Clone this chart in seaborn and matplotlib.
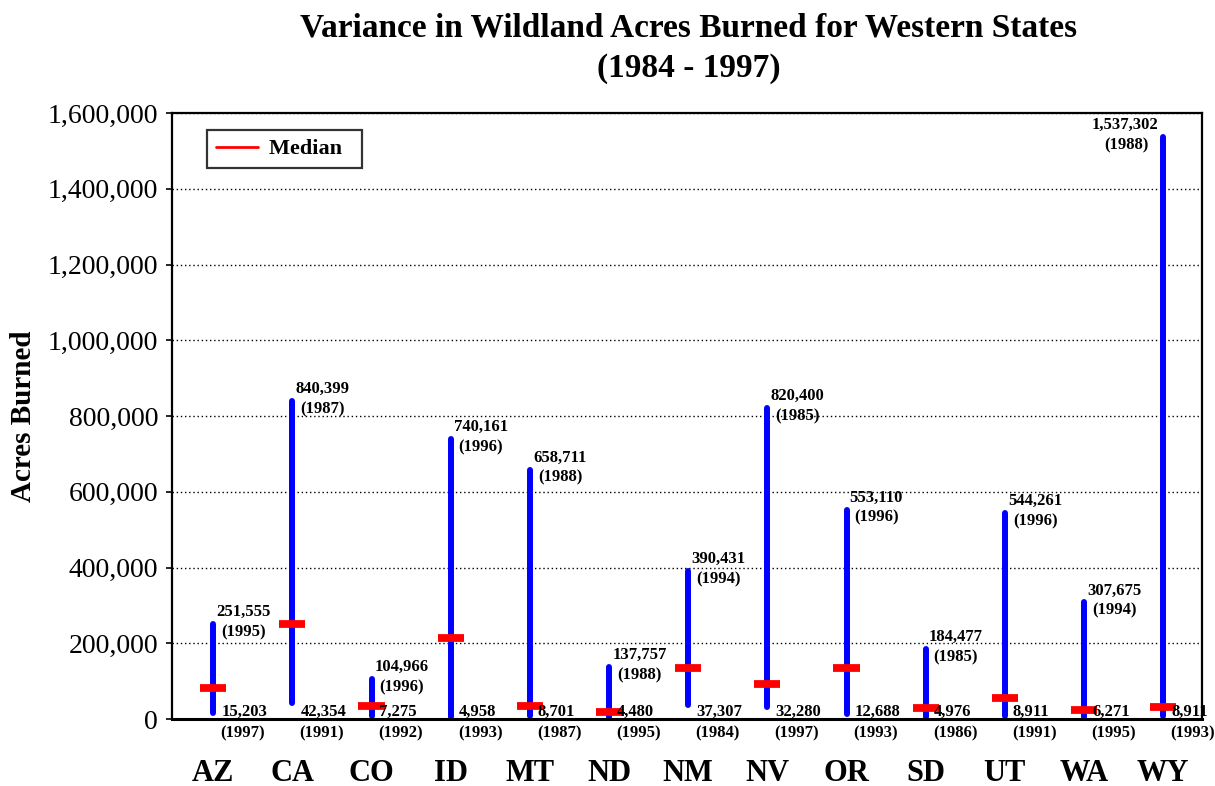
import matplotlib
matplotlib.use("Agg")
import matplotlib.pyplot as plt
from matplotlib.lines import Line2D
import seaborn as sns
import pandas as pd
import numpy as np

states = ["AZ", "CA", "CO", "ID", "MT", "ND", "NM", "NV", "OR", "SD", "UT", "WA", "WY"]
max_vals = [251555, 840399, 104966, 740161, 658711, 137757, 390431, 820400, 553110, 184477, 544261, 307675, 1537302]
max_years = ["1995", "1987", "1996", "1996", "1988", "1988", "1994", "1985", "1996", "1985", "1996", "1994", "1988"]
min_vals = [15203, 42354, 7275, 4958, 8701, 4480, 37307, 32280, 12688, 4976, 8911, 6271, 8911]
min_years = ["1997", "1991", "1992", "1993", "1987", "1995", "1984", "1997", "1993", "1986", "1991", "1995", "1993"]
medians = [82000, 251000, 35000, 215000, 35000, 19000, 135000, 93000, 135000, 30000, 56000, 24500, 32500]

sns.set_style("white")
plt.rcParams["font.family"] = ["Liberation Serif", "DejaVu Serif"]
plt.rcParams["text.color"] = "black"
plt.rcParams["axes.labelcolor"] = "black"
plt.rcParams["xtick.color"] = "black"
plt.rcParams["ytick.color"] = "black"

fig = plt.figure(figsize=(12.15, 7.86), dpi=100)
ax = fig.add_axes([0.1416, 0.0852, 0.8477, 0.771])

rng_df = pd.DataFrame({
    "state": states + states,
    "value": min_vals + max_vals,
})
sns.lineplot(data=rng_df, x="state", y="value", units="state", estimator=None,
             color="#0000ff", lw=4.3, solid_capstyle="round", ax=ax, legend=False)

pos = np.arange(len(states))
ax.hlines(medians, pos - 0.165, pos + 0.165, colors="#ff0000", lw=5.6, capstyle="butt", zorder=5)

fs = 12
for i, s in enumerate(states):
    if s == "WY":
        ax.text(i - 0.48, max_vals[i] + 32000, f"{max_vals[i]:,}", ha="center", va="center",
                fontsize=fs, fontweight="bold")
        ax.text(i - 0.47, max_vals[i] - 22000, f"({max_years[i]})", ha="center", va="center",
                fontsize=fs, fontweight="bold")
    else:
        ax.text(i + 0.04, max_vals[i] + 32000, f"{max_vals[i]:,}", ha="left", va="center",
                fontsize=fs, fontweight="bold")
        ax.text(i + 0.10, max_vals[i] - 22000, f"({max_years[i]})", ha="left", va="center",
                fontsize=fs, fontweight="bold")
    ax.text(i + 0.10, 18500, f"{min_vals[i]:,}", ha="left", va="center",
            fontsize=fs, fontweight="bold", clip_on=False, zorder=6)
    ax.text(i + 0.09, -39000, f"({min_years[i]})", ha="left", va="center",
            fontsize=fs, fontweight="bold", clip_on=False)

ax.set_xlim(-0.52, 12.49)
ax.set_ylim(0, 1600000)
ax.set_yticks(np.arange(0, 1600001, 200000))
ax.yaxis.set_major_formatter(matplotlib.ticker.FuncFormatter(lambda v, p: f"{int(v):,}"))
ax.tick_params(axis="y", labelsize=20, length=4, width=1.2, direction="out", left=True, pad=6,
               colors="black")
ax.tick_params(axis="x", labelsize=22, length=0, pad=29, colors="black")
for lab in ax.get_xticklabels():
    lab.set_fontweight("bold")
ax.set_xlabel("")
ax.set_ylabel("Acres Burned", fontsize=21, fontweight="bold", labelpad=8, color="black")

for v in np.arange(200000, 1600001, 200000):
    ax.axhline(v, color="black", lw=1.0, ls=(0, (1, 2)), zorder=0)

for sp in ax.spines.values():
    sp.set_visible(True)
    sp.set_color("black")
    sp.set_linewidth(1.6)
ax.spines["bottom"].set_linewidth(2.2)

leg_handle = Line2D([], [], color="#ff0000", lw=2)
leg = ax.legend([leg_handle], ["Median  "], loc="upper left", bbox_to_anchor=(0.034, 0.972),
                borderaxespad=0, frameon=True, fancybox=False, borderpad=0.4,
                handlelength=1.9, handletextpad=0.5,
                prop={"family": "Liberation Serif", "weight": "bold", "size": 16})
leg.get_frame().set_edgecolor("black")
leg.get_frame().set_linewidth(1.6)
for t in leg.get_texts():
    t.set_color("black")

fig.suptitle("Variance in Wildland Acres Burned for Western States\n(1984 - 1997)",
             x=0.567, y=0.984, fontsize=24, fontweight="bold", linespacing=1.4, color="black")

fig.savefig("out.png", dpi=100)
